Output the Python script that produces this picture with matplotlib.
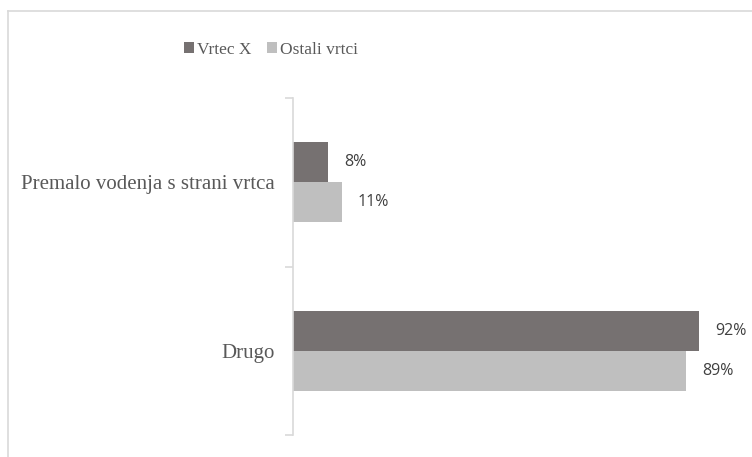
import matplotlib
matplotlib.use("Agg")
import matplotlib.pyplot as plt
from matplotlib.lines import Line2D

categories = ["Premalo vodenja s strani vrtca", "Drugo"]
series_names = ["Vrtec X", "Ostali vrtci"]
vrtec_x = [8, 92]
ostali = [11, 89]
colors = ["#767171", "#BFBFBF"]

W, H = 752, 457
fig = plt.figure(figsize=(W / 100, H / 100), dpi=100)

# outer chart border (cropped at right/bottom)
fig.add_artist(Line2D([8 / W, 8 / W], [0, 1 - 11 / H], color="#D9D9D9", lw=1.2, transform=fig.transFigure))
fig.add_artist(Line2D([8 / W, 1], [1 - 11 / H, 1 - 11 / H], color="#D9D9D9", lw=1.2, transform=fig.transFigure))

ax_l, ax_r, ax_t, ax_b = 293, 752, 98, 435
ax = fig.add_axes([ax_l / W, 1 - ax_b / H, (ax_r - ax_l) / W, (ax_b - ax_t) / H])

bh = 40 / 168.5
ypos = list(range(len(categories)))
for i, (vals, col) in enumerate(zip([vrtec_x, ostali], colors)):
    off = (-0.5 + i) * bh
    ys = [y + off for y in ypos]
    ax.barh(ys, vals, height=bh, color=col, label=series_names[i])
    for y, v in zip(ys, vals):
        ax.annotate(f"{v}%", xy=(v, y), xytext=(16, 0), textcoords="offset pixels",
                    va="center", ha="left", fontsize=11.5, color="#404040", family="Open Sans")

ax.set_xlim(0, (ax_r - ax_l) / ((699 - 293) / 92))
ax.set_ylim(1.5, -0.5)
ax.set_xticks([])
ax.set_yticks(ypos)
ax.set_yticklabels(categories, fontsize=15, color="#595959", family="Liberation Serif")
ax.tick_params(axis="y", which="major", length=0, pad=13)
ax.set_yticks([-0.5, 0.5, 1.5], minor=True)
ax.tick_params(axis="y", which="minor", length=6, color="#D9D9D9", width=1.2)
for s in ["top", "right", "bottom"]:
    ax.spines[s].set_visible(False)
ax.spines["left"].set_color("#D9D9D9")
ax.spines["left"].set_linewidth(1.2)

fig.legend(loc="center", bbox_to_anchor=(271 / W, 1 - 50 / H), ncol=2, frameon=False,
           prop={"family": "Liberation Serif", "size": 12.5}, labelcolor="#595959",
           handlelength=0.6, handleheight=0.6, handletextpad=0.15, columnspacing=0.9)

fig.savefig("out.png", dpi=100, facecolor="white")
